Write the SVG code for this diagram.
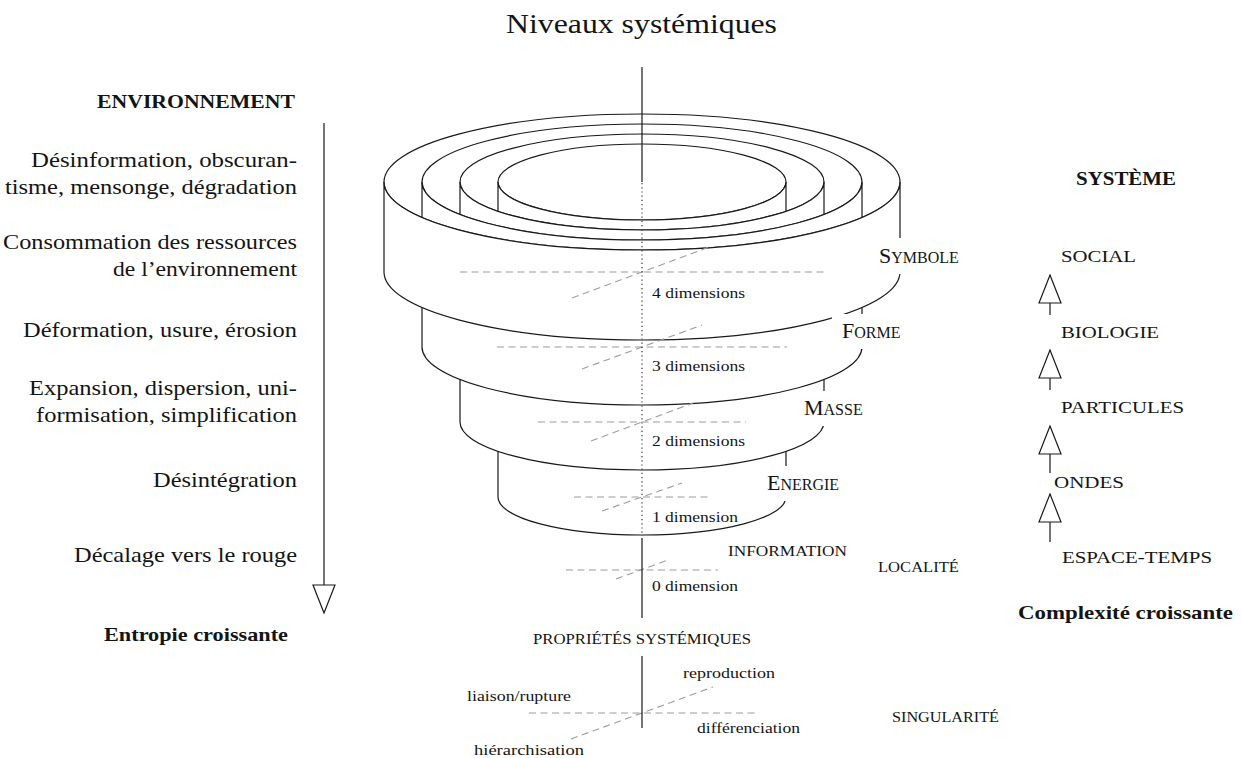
<svg xmlns="http://www.w3.org/2000/svg" width="1242" height="758" viewBox="0 0 1242 758">
<defs>
<style>
  text { font-family: "Liberation Serif", "Times New Roman", serif; fill: #141414; }
  .title { font-size: 27px; }
  .body { font-size: 21px; }
  .bold { font-size: 19px; font-weight: bold; }
  .sc { font-size: 14px; }
  .scr { font-size: 17px; }
  .dim { font-size: 14.5px; }
  .lvl { font-size: 22px; }
  .lvl tspan { font-size: 16px; }
  .face { fill: #fff; stroke: #1a1a1a; stroke-width: 1.2; }
  .rim { fill: none; stroke: #1a1a1a; stroke-width: 1.2; }
  .axis { fill: none; stroke: #9c9c9c; stroke-width: 1.1; stroke-dasharray: 7 4.5; }
  .pole { stroke: #1a1a1a; stroke-width: 1.2; }
  .dots { stroke: #333; stroke-width: 1.2; stroke-dasharray: 1.2 3; }
  .mask { fill: #fff; }
  .wire { fill: none; stroke: #1a1a1a; stroke-width: 1.2; }
</style>
<marker id="hollow" markerUnits="userSpaceOnUse" markerWidth="30" markerHeight="24" viewBox="0 0 30 24" refX="1" refY="12" orient="auto">
  <path d="M1,1 L29,12 L1,23 Z" fill="#fff" stroke="#1a1a1a" stroke-width="1.2"/>
</marker>
</defs>

<text class="title" x="506" y="33" textLength="271" lengthAdjust="spacingAndGlyphs">Niveaux systémiques</text>

<!-- nested cylinders, innermost first so outer faces hide the inner walls -->
<g id="cyl-energie">
  <ellipse class="rim" cx="642" cy="182" rx="144" ry="38"/>
  <path class="face" d="M498,182 L498,497 A144,38 0 0 0 786,497 L786,182 A144,38 0 0 1 498,182 Z"/>
</g>
<g id="cyl-masse">
  <ellipse class="rim" cx="642" cy="182" rx="182" ry="48"/>
  <path class="face" d="M460,182 L460,422 A182,48 0 0 0 824,422 L824,182 A182,48 0 0 1 460,182 Z"/>
</g>
<g id="cyl-forme">
  <ellipse class="rim" cx="642" cy="182" rx="220" ry="58"/>
  <path class="face" d="M422,182 L422,347 A220,58 0 0 0 862,347 L862,182 A220,58 0 0 1 422,182 Z"/>
</g>
<g id="cyl-symbole">
  <ellipse class="rim" cx="642" cy="182" rx="258" ry="68"/>
  <path class="face" d="M384,182 L384,272 A258,68 0 0 0 900,272 L900,182 A258,68 0 0 1 384,182 Z"/>
</g>

<!-- level labels sit on white boxes that interrupt the walls -->
<g id="label-symbole">
  <rect class="mask" x="869" y="238" width="98" height="36"/>
  <text class="lvl" x="879" y="263">S<tspan>YMBOLE</tspan></text>
</g>
<g id="label-forme">
  <rect class="mask" x="832" y="314" width="80" height="35"/>
  <text class="lvl" x="842" y="338">F<tspan>ORME</tspan></text>
</g>
<g id="label-masse">
  <rect class="mask" x="794" y="391" width="78" height="35"/>
  <text class="lvl" x="804" y="415">M<tspan>ASSE</tspan></text>
</g>
<g id="label-energie">
  <rect class="mask" x="757" y="466" width="93" height="35"/>
  <text class="lvl" x="767" y="490">E<tspan>NERGIE</tspan></text>
</g>

<!-- dimension axes: horizontal + oblique dashes through the central pole -->
<g id="axes">
  <line class="axis" x1="460" y1="272" x2="824" y2="272"/>
  <line class="axis" x1="572" y1="298" x2="712" y2="246"/>
  <line class="axis" x1="497" y1="347" x2="787" y2="347"/>
  <line class="axis" x1="582" y1="369" x2="702" y2="325"/>
  <line class="axis" x1="538" y1="422" x2="746" y2="422"/>
  <line class="axis" x1="591" y1="441" x2="693" y2="403"/>
  <line class="axis" x1="574" y1="497" x2="710" y2="497"/>
  <line class="axis" x1="602" y1="511" x2="682" y2="483"/>
  <line class="axis" x1="566" y1="570" x2="718" y2="570"/>
  <line class="axis" x1="616" y1="579" x2="668" y2="560"/>
  <line class="axis" x1="529" y1="713" x2="755" y2="713"/>
  <line class="axis" x1="571" y1="739" x2="713" y2="687"/>
</g>

<g id="pole">
  <line class="pole" x1="642" y1="67" x2="642" y2="182"/>
  <line class="dots" x1="642" y1="183" x2="642" y2="536"/>
  <line class="pole" x1="642" y1="538" x2="642" y2="618"/>
  <line class="pole" x1="642" y1="656" x2="642" y2="728"/>
</g>

<g id="dimensions">
  <text class="dim" x="652" y="298" textLength="93" lengthAdjust="spacingAndGlyphs">4 dimensions</text>
  <text class="dim" x="652" y="371" textLength="93" lengthAdjust="spacingAndGlyphs">3 dimensions</text>
  <text class="dim" x="652" y="446" textLength="93" lengthAdjust="spacingAndGlyphs">2 dimensions</text>
  <text class="dim" x="652" y="522" textLength="86" lengthAdjust="spacingAndGlyphs">1 dimension</text>
  <text class="dim" x="652" y="591" textLength="86" lengthAdjust="spacingAndGlyphs">0 dimension</text>
</g>

<g id="label-information">
  <text class="sc" x="728" y="556" textLength="119" lengthAdjust="spacingAndGlyphs">INFORMATION</text>
</g>
<g id="label-localite">
  <text class="sc" x="878" y="572" textLength="81" lengthAdjust="spacingAndGlyphs">LOCALITÉ</text>
</g>
<g id="label-proprietes">
  <text class="sc" x="533" y="644" textLength="218" lengthAdjust="spacingAndGlyphs">PROPRIÉTÉS SYSTÉMIQUES</text>
</g>
<g id="label-singularite">
  <text class="sc" x="892" y="722" textLength="107" lengthAdjust="spacingAndGlyphs">SINGULARITÉ</text>
</g>

<g id="properties">
  <text class="dim" x="683" y="678" textLength="92" lengthAdjust="spacingAndGlyphs">reproduction</text>
  <text class="dim" x="467" y="701" textLength="104" lengthAdjust="spacingAndGlyphs">liaison/rupture</text>
  <text class="dim" x="697" y="733" textLength="103" lengthAdjust="spacingAndGlyphs">différenciation</text>
  <text class="dim" x="474" y="755" textLength="110" lengthAdjust="spacingAndGlyphs">hiérarchisation</text>
</g>

<!-- environment column -->
<g id="environnement">
  <text class="bold" x="97" y="108" textLength="198" lengthAdjust="spacingAndGlyphs">ENVIRONNEMENT</text>
  <text class="body" x="31" y="167" textLength="266" lengthAdjust="spacingAndGlyphs">Désinformation, obscuran-</text>
  <text class="body" x="5" y="194" textLength="292" lengthAdjust="spacingAndGlyphs">tisme, mensonge, dégradation</text>
  <text class="body" x="3" y="249" textLength="294" lengthAdjust="spacingAndGlyphs">Consommation des ressources</text>
  <text class="body" x="113" y="276" textLength="184" lengthAdjust="spacingAndGlyphs">de l’environnement</text>
  <text class="body" x="23" y="337" textLength="274" lengthAdjust="spacingAndGlyphs">Déformation, usure, érosion</text>
  <text class="body" x="29" y="395" textLength="268" lengthAdjust="spacingAndGlyphs">Expansion, dispersion, uni-</text>
  <text class="body" x="36" y="422" textLength="261" lengthAdjust="spacingAndGlyphs">formisation, simplification</text>
  <text class="body" x="153" y="487" textLength="144" lengthAdjust="spacingAndGlyphs">Désintégration</text>
  <text class="body" x="74" y="562" textLength="223" lengthAdjust="spacingAndGlyphs">Décalage vers le rouge</text>
  <text class="bold" x="104" y="641" textLength="184" lengthAdjust="spacingAndGlyphs">Entropie croissante</text>
</g>

<!-- system column -->
<g id="systeme">
  <text class="bold" x="1076" y="185" textLength="100" lengthAdjust="spacingAndGlyphs">SYSTÈME</text>
  <text class="scr" x="1061" y="262" textLength="75" lengthAdjust="spacingAndGlyphs">SOCIAL</text>
  <text class="scr" x="1061" y="338" textLength="98" lengthAdjust="spacingAndGlyphs">BIOLOGIE</text>
  <text class="scr" x="1061" y="413" textLength="123" lengthAdjust="spacingAndGlyphs">PARTICULES</text>
  <text class="scr" x="1054" y="488" textLength="70" lengthAdjust="spacingAndGlyphs">ONDES</text>
  <text class="scr" x="1062" y="563" textLength="150" lengthAdjust="spacingAndGlyphs">ESPACE-TEMPS</text>
  <text class="bold" x="1018" y="619" textLength="215" lengthAdjust="spacingAndGlyphs">Complexité croissante</text>
</g>

<g id="connectors">
  <line class="wire" x1="324" y1="123" x2="324" y2="585" marker-end="url(#hollow)"/>
  <line class="wire" x1="1050" y1="315" x2="1050" y2="303" marker-end="url(#hollow)"/>
  <line class="wire" x1="1050" y1="390" x2="1050" y2="378" marker-end="url(#hollow)"/>
  <line class="wire" x1="1050" y1="473" x2="1050" y2="454" marker-end="url(#hollow)"/>
  <line class="wire" x1="1050" y1="542" x2="1050" y2="522" marker-end="url(#hollow)"/>
</g>
</svg>
